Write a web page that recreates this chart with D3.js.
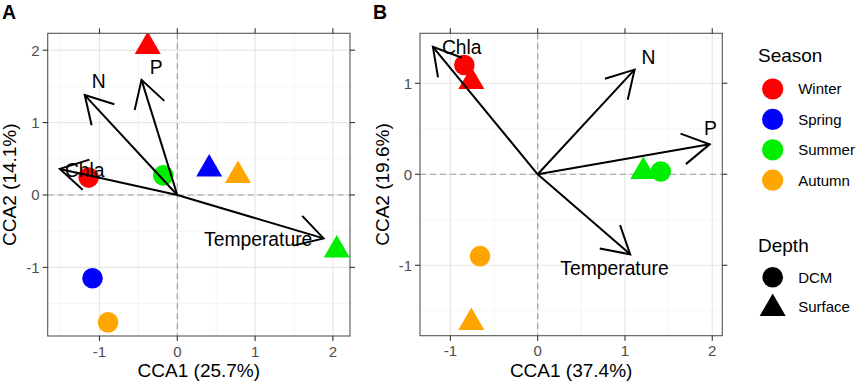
<!DOCTYPE html>
<html>
<head>
<meta charset="utf-8">
<script src="https://cdn.jsdelivr.net/npm/d3@7"></script>
<style>
  body { margin: 0; background: #fff; }
  svg { font-family: "Liberation Sans", Arial, sans-serif; display: block; }
</style>
</head>
<body>
<div id="chart"></div>
<script>
// legend categories
const seasons = ["Winter", "Spring", "Summer", "Autumn"];
const seasonColors = ["#ff0000", "#0000ff", "#00ee00", "#ffa500"];
const depths = ["DCM", "Surface"];

// panel A sites
const seasonA = ["Winter", "Winter", "Spring", "Spring", "Summer", "Summer", "Autumn", "Autumn"];
const depthA = ["DCM", "Surface", "DCM", "Surface", "DCM", "Surface", "DCM", "Surface"];
const cca1A = [-1.14, -0.38, -1.09, 0.41, -0.18, 2.05, -0.89, 0.78];
const cca2A = [0.24, 2.05, -1.15, 0.36, 0.27, -0.76, -1.76, 0.27];

// panel A environmental vectors
const envA = ["Chla", "N", "P", "Temperature"];
const envXA = [-1.51, -1.19, -0.46, 1.88];
const envYA = [0.36, 1.38, 1.59, -0.60];
const labXA = [-1.19, -1.01, -0.27, 1.04];
const labYA = [0.34, 1.57, 1.77, -0.61];

// panel B sites
const seasonB = ["Winter", "Winter", "Summer", "Summer", "Autumn", "Autumn"];
const depthB = ["DCM", "Surface", "DCM", "Surface", "DCM", "Surface"];
const cca1B = [-0.84, -0.76, 1.41, 1.21, -0.66, -0.76];
const cca2B = [1.20, 1.02, 0.03, 0.03, -0.90, -1.63];

// panel B environmental vectors
const envB = ["Chla", "N", "P", "Temperature"];
const envXB = [-1.20, 1.11, 1.97, 1.06];
const envYB = [1.40, 1.15, 0.33, -0.88];
const labXB = [-0.87, 1.27, 1.98, 0.88];
const labYB = [1.40, 1.29, 0.51, -1.03];

// axis ticks
const ticksXA = [-1, 0, 1, 2], ticksYA = [-1, 0, 1, 2];
const ticksXB = [-1, 0, 1, 2], ticksYB = [-1, 0, 1];

const W = 858, H = 383;
const svg = d3.select("#chart").append("svg")
    .attr("width", W)
    .attr("height", H);

const color = d3.scaleOrdinal().domain(seasons).range(seasonColors);

// R pch 17 triangle, r = circumradius
function triangle(r) {
  const xc = r * Math.sqrt(3) / 2, yc = r / 2;
  return "M0," + (-r) + "L" + xc + "," + yc + "L" + (-xc) + "," + yc + "Z";
}
const CIRCLE_R = 10.3, TRI_R = 15;

function drawPanel(opt) {
  const x = d3.scaleLinear().domain(opt.xdom).range([opt.left, opt.right]);
  const y = d3.scaleLinear().domain(opt.ydom).range([opt.bottom, opt.top]);
  const g = svg.append("g");

  g.append("clipPath").attr("id", "clip" + opt.id)
    .append("rect")
      .attr("x", opt.left).attr("y", opt.top)
      .attr("width", opt.right - opt.left).attr("height", opt.bottom - opt.top);

  // minor grid
  const minorX = d3.range(Math.ceil(opt.xdom[0] - 0.5), opt.xdom[1], 1).map(d => d + 0.5)
      .filter(d => d > opt.xdom[0] && d < opt.xdom[1]);
  const minorY = d3.range(Math.ceil(opt.ydom[0] - 0.5), opt.ydom[1], 1).map(d => d + 0.5)
      .filter(d => d > opt.ydom[0] && d < opt.ydom[1]);
  g.selectAll(".minx").data(minorX).enter().append("line")
      .attr("x1", d => x(d)).attr("x2", d => x(d))
      .attr("y1", opt.top).attr("y2", opt.bottom)
      .attr("stroke", "#f0f0f0").attr("stroke-width", 0.7);
  g.selectAll(".miny").data(minorY).enter().append("line")
      .attr("y1", d => y(d)).attr("y2", d => y(d))
      .attr("x1", opt.left).attr("x2", opt.right)
      .attr("stroke", "#f0f0f0").attr("stroke-width", 0.7);
  // major grid
  g.selectAll(".majx").data(opt.tx).enter().append("line")
      .attr("x1", d => x(d)).attr("x2", d => x(d))
      .attr("y1", opt.top).attr("y2", opt.bottom)
      .attr("stroke", "#e6e6e6").attr("stroke-width", 1.2);
  g.selectAll(".majy").data(opt.ty).enter().append("line")
      .attr("y1", d => y(d)).attr("y2", d => y(d))
      .attr("x1", opt.left).attr("x2", opt.right)
      .attr("stroke", "#e6e6e6").attr("stroke-width", 1.2);

  // dashed zero lines
  g.append("line")
      .attr("x1", x(0)).attr("x2", x(0)).attr("y1", opt.top).attr("y2", opt.bottom)
      .attr("stroke", "#9a9a9a").attr("stroke-width", 1.1).attr("stroke-dasharray", "6,4");
  g.append("line")
      .attr("y1", y(0)).attr("y2", y(0)).attr("x1", opt.left).attr("x2", opt.right)
      .attr("stroke", "#9a9a9a").attr("stroke-width", 1.1).attr("stroke-dasharray", "6,4");

  // sites
  const sites = opt.s1.map((d, i) => ({x: d, y: opt.s2[i], season: opt.season[i], depth: opt.depth[i]}));
  g.append("g").attr("clip-path", "url(#clip" + opt.id + ")")
    .selectAll("path").data(sites).enter().append("path")
      .attr("transform", d => "translate(" + x(d.x) + "," + y(d.y) + ")")
      .attr("d", d => d.depth === "DCM" ? d3.symbol(d3.symbolCircle, Math.PI * CIRCLE_R * CIRCLE_R)() : triangle(TRI_R))
      .attr("fill", d => color(d.season));

  // environmental arrows
  const vecs = opt.env.map((d, i) => ({name: d, x: opt.ex[i], y: opt.ey[i], lx: opt.lx[i], ly: opt.ly[i]}));
  const ag = g.append("g").attr("clip-path", "url(#clip" + opt.id + ")");
  ag.selectAll(".shaft").data(vecs).enter().append("line")
      .attr("x1", x(0)).attr("y1", y(0))
      .attr("x2", d => x(d.x)).attr("y2", d => y(d.y))
      .attr("stroke", "#000").attr("stroke-width", 2);
  ag.selectAll(".head").data(vecs).enter().append("path")
      .attr("d", function(d) {
        const tx = x(d.x), ty = y(d.y);
        const ang = Math.atan2(ty - y(0), tx - x(0));
        const len = 31, a = Math.PI / 6;
        const p1 = [tx - len * Math.cos(ang - a), ty - len * Math.sin(ang - a)];
        const p2 = [tx - len * Math.cos(ang + a), ty - len * Math.sin(ang + a)];
        return "M" + p1 + "L" + tx + "," + ty + "L" + p2;
      })
      .attr("fill", "none").attr("stroke", "#000").attr("stroke-width", 2)
      .attr("stroke-linejoin", "miter");
  ag.selectAll("text").data(vecs).enter().append("text")
      .attr("x", d => x(d.lx)).attr("y", d => y(d.ly))
      .attr("dy", "0.36em")
      .attr("text-anchor", "middle")
      .style("font-size", "19.3px")
      .text(d => d.name);

  // panel border
  g.append("rect")
      .attr("x", opt.left).attr("y", opt.top)
      .attr("width", opt.right - opt.left).attr("height", opt.bottom - opt.top)
      .attr("fill", "none").attr("stroke", "#555").attr("stroke-width", 1.1);

  // ticks on all four sides
  const tick = 5;
  g.selectAll(".tb").data(opt.tx).enter().append("line")
      .attr("x1", d => x(d)).attr("x2", d => x(d))
      .attr("y1", opt.bottom).attr("y2", opt.bottom + tick)
      .attr("stroke", "#333").attr("stroke-width", 1.1);
  g.selectAll(".tt").data(opt.tx).enter().append("line")
      .attr("x1", d => x(d)).attr("x2", d => x(d))
      .attr("y1", opt.top).attr("y2", opt.top - tick)
      .attr("stroke", "#333").attr("stroke-width", 1.1);
  g.selectAll(".tl").data(opt.ty).enter().append("line")
      .attr("y1", d => y(d)).attr("y2", d => y(d))
      .attr("x1", opt.left).attr("x2", opt.left - tick)
      .attr("stroke", "#333").attr("stroke-width", 1.1);
  g.selectAll(".tr").data(opt.ty).enter().append("line")
      .attr("y1", d => y(d)).attr("y2", d => y(d))
      .attr("x1", opt.right).attr("x2", opt.right + tick)
      .attr("stroke", "#333").attr("stroke-width", 1.1);

  // tick labels
  g.selectAll(".xl").data(opt.tx).enter().append("text")
      .attr("x", d => x(d)).attr("y", opt.bottom + 20.5)
      .attr("text-anchor", "middle")
      .attr("fill", "#4d4d4d").style("font-size", "15px")
      .text(d => d);
  g.selectAll(".yl").data(opt.ty).enter().append("text")
      .attr("x", opt.left - 8).attr("y", d => y(d)).attr("dy", "0.36em")
      .attr("text-anchor", "end")
      .attr("fill", "#4d4d4d").style("font-size", "15px")
      .text(d => d);

  // axis titles
  g.append("text")
      .attr("x", (opt.left + opt.right) / 2).attr("y", 377)
      .attr("text-anchor", "middle").style("font-size", "19px")
      .text(opt.xtitle);
  g.append("text")
      .attr("transform", "translate(" + opt.ytx + "," + ((opt.top + opt.bottom) / 2) + ") rotate(-90)")
      .attr("text-anchor", "middle").style("font-size", "19px")
      .text(opt.ytitle);

  // panel tag
  g.append("text")
      .attr("x", opt.tagx).attr("y", 18.5)
      .style("font-size", "19.5px").style("font-weight", "bold")
      .text(opt.tag);
}

drawPanel({
  id: "A", tag: "A", tagx: 2,
  left: 47.7, right: 350, top: 33.3, bottom: 336,
  xdom: [-1.666, 2.22], ydom: [-1.948, 2.233],
  tx: ticksXA, ty: ticksYA,
  s1: cca1A, s2: cca2A, season: seasonA, depth: depthA,
  env: envA, ex: envXA, ey: envYA, lx: labXA, ly: labYA,
  xtitle: "CCA1 (25.7%)", ytitle: "CCA2 (14.1%)", ytx: 16
});

drawPanel({
  id: "B", tag: "B", tagx: 373,
  left: 420, right: 722.3, top: 33.3, bottom: 335.7,
  xdom: [-1.348, 2.115], ydom: [-1.774, 1.549],
  tx: ticksXB, ty: ticksYB,
  s1: cca1B, s2: cca2B, season: seasonB, depth: depthB,
  env: envB, ex: envXB, ey: envYB, lx: labXB, ly: labYB,
  xtitle: "CCA1 (37.4%)", ytitle: "CCA2 (19.6%)", ytx: 389
});

// legend
const lg = svg.append("g");
lg.append("text").attr("x", 758).attr("y", 62).style("font-size", "19px").text("Season");
const sKey = lg.selectAll(".skey").data(seasons).enter().append("g")
    .attr("transform", (d, i) => "translate(772.7," + (89 + i * 30.4) + ")");
sKey.append("circle").attr("r", CIRCLE_R + 0.3).attr("fill", d => color(d));
sKey.append("text").attr("x", 25.5).attr("dy", "0.36em").style("font-size", "15px").text(d => d);

lg.append("text").attr("x", 758).attr("y", 252).style("font-size", "19px").text("Depth");
const dKey = lg.selectAll(".dkey").data(depths).enter().append("g")
    .attr("transform", (d, i) => "translate(772.7," + (277.3 + i * 29.7) + ")");
dKey.append("path")
    .attr("d", d => d === "DCM" ? d3.symbol(d3.symbolCircle, Math.PI * CIRCLE_R * CIRCLE_R)() : triangle(TRI_R))
    .attr("transform", d => d === "DCM" ? null : "translate(0,1.5)")
    .attr("fill", "#000");
dKey.append("text").attr("x", 25.5).attr("dy", "0.36em").style("font-size", "15px").text(d => d);
</script>
</body>
</html>
